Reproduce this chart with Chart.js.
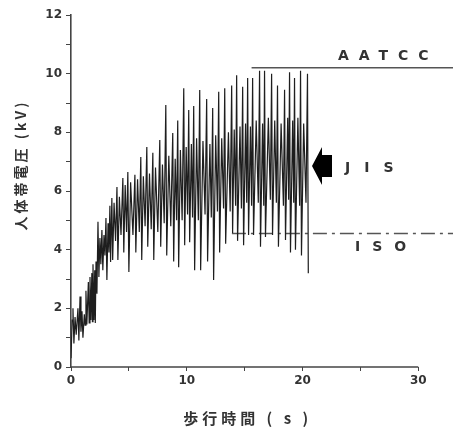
<!DOCTYPE html>
<html>
<head>
  <meta charset="UTF-8">
  <title>人体帯電圧</title>
  <script src="https://cdn.jsdelivr.net/npm/chart.js"></script>
  <style>
    body { margin: 0; background: #fff; }
    #wrap { width: 453px; height: 430px; }
  </style>
</head>
<body>
  <div id="wrap"><canvas id="chart" width="453" height="430"></canvas></div>

  <script>
    // 歩行時間 (s) と 人体帯電圧 (kV)
    const times = [0, 0.1, 0.17, 0.25, 0.35, 0.45, 0.6, 0.68, 0.78, 0.86,
      0.95, 1.03, 1.15, 1.22, 1.29, 1.37, 1.5, 1.57, 1.64, 1.72,
      1.8, 1.85, 1.9, 1.98, 2.05, 2.1, 2.16, 2.24, 2.33, 2.41,
      2.5, 2.58, 2.67, 2.75, 2.85, 2.93, 3.02, 3.1, 3.2, 3.28,
      3.36, 3.42, 3.53, 3.6, 3.72, 3.85, 3.97, 4.05, 4.18, 4.32,
      4.48, 4.56, 4.68, 4.8, 4.91, 5.0, 5.15, 5.35, 5.52, 5.6,
      5.75, 5.9, 6.03, 6.11, 6.25, 6.4, 6.55, 6.63, 6.78, 6.93,
      7.07, 7.15, 7.3, 7.5, 7.67, 7.75, 7.9, 8.05, 8.19, 8.27,
      8.45, 8.62, 8.79, 8.87, 9.0, 9.12, 9.22, 9.3, 9.45, 9.6,
      9.74, 9.82, 9.95, 10.07, 10.17, 10.25, 10.4, 10.5, 10.6, 10.68,
      10.85, 11.0, 11.12, 11.2, 11.4, 11.58, 11.72, 11.8, 12.0, 12.12,
      12.24, 12.32, 12.5, 12.65, 12.76, 12.84, 13.02, 13.18, 13.28, 13.36,
      13.6, 13.75, 13.88, 13.96, 14.1, 14.22, 14.31, 14.39, 14.6, 14.72,
      14.83, 14.91, 15.08, 15.18, 15.26, 15.34, 15.5, 15.6, 15.69, 15.77,
      16.0, 16.18, 16.29, 16.37, 16.55, 16.65, 16.72, 16.8, 17.05, 17.22,
      17.33, 17.41, 17.6, 17.74, 17.84, 17.92, 18.15, 18.35, 18.45, 18.53,
      18.72, 18.8, 18.88, 18.96, 19.15, 19.24, 19.31, 19.39, 19.6, 19.75,
      19.83, 19.91, 20.1, 20.3, 20.43, 20.5];

    const volts = [0.3, 1.6, 2.0, 0.8, 1.7, 1.1, 2.0, 0.9, 2.4, 1.2,
      1.9, 1.0, 1.8, 1.43, 2.6, 1.45, 2.9, 1.5, 3.07, 1.6,
      3.2, 1.55, 3.5, 1.6, 3.3, 1.5, 3.6, 2.5, 4.95, 3.07,
      4.4, 3.5, 4.67, 3.3, 4.5, 3.8, 5.08, 2.97, 4.9, 3.9,
      5.5, 3.58, 5.76, 3.65, 5.6, 4.3, 6.14, 3.65, 5.8, 4.5,
      6.44, 3.9, 6.2, 4.6, 6.65, 3.24, 6.3, 4.5, 6.55, 3.9,
      6.4, 4.6, 7.16, 3.65, 6.5, 4.8, 7.5, 4.1, 6.6, 4.7,
      7.3, 3.65, 6.8, 4.6, 7.74, 4.1, 6.9, 4.9, 8.93, 3.8,
      7.2, 4.8, 7.98, 3.6, 7.1, 5.0, 8.4, 3.4, 7.4, 5.0,
      9.5, 4.15, 7.5, 5.2, 8.76, 4.25, 7.6, 5.1, 8.9, 3.3,
      7.8, 5.0, 9.44, 3.3, 7.7, 5.2, 9.14, 3.6, 7.6, 5.1,
      8.83, 2.97, 7.9, 5.3, 9.38, 3.9, 7.8, 5.4, 9.5, 4.2,
      8.0, 5.3, 9.6, 4.57, 8.1, 5.5, 9.95, 4.3, 8.2, 5.4,
      9.55, 4.15, 8.3, 5.6, 9.85, 4.5, 8.2, 5.5, 9.85, 4.5,
      8.4, 5.6, 10.1, 4.1, 8.3, 5.5, 10.1, 4.43, 8.5, 5.7,
      10.0, 4.5, 8.4, 5.6, 9.6, 4.1, 8.3, 5.5, 9.45, 4.33,
      8.5, 5.7, 10.05, 3.9, 8.4, 5.6, 9.85, 4.0, 8.5, 5.5,
      10.1, 3.8, 8.3, 5.6, 10.0, 3.2];

    // 基準線 (kV) と範囲 (s)
    const aatccLevel = 10.2;
    const aatccRange = [15.6, 33];
    const isoLevel = 4.55;
    const isoRange = [13.9, 33];
    const jisLevel = 6.85;
    const jisTip = 20.82;

    const xTicks = [0, 5, 10, 15, 20, 25, 30];
    const xLabels = [0, 10, 20, 30];
    const yLabels = [0, 2, 4, 6, 8, 10, 12];

    const ink = '#333';
    const tickFont = { family: 'DejaVu Sans', size: 12, weight: 'bold' };

    const serie = times.map((t, i) => ({ x: t, y: volts[i] }));

    // 軸タイトルと注記
    const textos = {
      id: 'textos',
      afterDatasetsDraw(chart) {
        const { ctx, scales: { x, y } } = chart;
        ctx.save();
        ctx.fillStyle = ink;
        ctx.textBaseline = 'middle';

        // 縦軸タイトル
        ctx.save();
        ctx.translate(21, 165);
        ctx.rotate(-Math.PI / 2);
        ctx.textAlign = 'center';
        ctx.font = 'bold 14px "Noto Sans CJK JP"';
        ctx.letterSpacing = '3px';
        ctx.fillText('人体帯電圧 (kV)', 0, 0);
        ctx.restore();

        // 横軸タイトル
        ctx.textAlign = 'center';
        ctx.font = 'bold 15px "Noto Sans CJK JP"';
        ctx.letterSpacing = '4px';
        ctx.fillText('歩行時間 ( s )', x.getPixelForValue(15) + 3, 418);

        // 注記
        ctx.textAlign = 'left';
        ctx.font = 'bold 14px "DejaVu Sans"';
        ctx.letterSpacing = '10px';
        ctx.fillText('AATCC', x.getPixelForValue(23.06), y.getPixelForValue(aatccLevel) - 11);
        ctx.letterSpacing = '14px';
        ctx.fillText('JIS', x.getPixelForValue(23.67), y.getPixelForValue(jisLevel) + 2);
        ctx.letterSpacing = '12px';
        ctx.fillText('ISO', x.getPixelForValue(24.53), y.getPixelForValue(isoLevel) + 14);

        // JIS の矢印
        const px = x.getPixelForValue(jisTip);
        const py = y.getPixelForValue(jisLevel);
        ctx.fillStyle = '#000';
        ctx.beginPath();
        ctx.moveTo(px, py);
        ctx.lineTo(px + 10, py - 19);
        ctx.lineTo(px + 10, py - 11);
        ctx.lineTo(px + 20, py - 11);
        ctx.lineTo(px + 20, py + 11);
        ctx.lineTo(px + 10, py + 11);
        ctx.lineTo(px + 10, py + 19);
        ctx.closePath();
        ctx.fill();
        ctx.restore();
      }
    };

    new Chart(document.getElementById('chart'), {
      type: 'line',
      data: {
        datasets: [
          {
            label: '人体帯電圧',
            data: serie,
            borderColor: '#1e1e1e',
            borderWidth: 1.2,
            pointRadius: 0,
            tension: 0
          },
          {
            label: 'AATCC',
            data: [{ x: aatccRange[0], y: aatccLevel }, { x: aatccRange[1], y: aatccLevel }],
            borderColor: '#555',
            borderWidth: 1.6,
            pointRadius: 0
          },
          {
            label: 'ISO',
            data: [{ x: isoRange[0], y: isoLevel }, { x: isoRange[1], y: isoLevel }],
            borderColor: '#555',
            borderWidth: 1.4,
            borderDash: [14, 5, 3, 5],
            pointRadius: 0
          },
          {
            label: 'eje',
            data: [{ x: 0, y: 0 }, { x: 30, y: 0 }],
            borderColor: '#444',
            borderWidth: 1.6,
            pointRadius: 0,
            clip: false
          }
        ]
      },
      options: {
        responsive: false,
        animation: false,
        layout: { padding: { top: 15, right: 0, left: 0, bottom: 0 } },
        plugins: {
          legend: { display: false },
          tooltip: { enabled: false }
        },
        scales: {
          x: {
            type: 'linear',
            min: 0,
            max: 33,
            afterBuildTicks: s => { s.ticks = xTicks.map(v => ({ value: v })); },
            afterFit: s => { s.height = 63; },
            border: { display: false },
            grid: { drawOnChartArea: false, drawTicks: true, tickLength: 4, color: '#444' },
            ticks: {
              color: ink,
              font: tickFont,
              padding: 3,
              maxRotation: 0,
              autoSkip: false,
              callback: v => xLabels.includes(v) ? String(v) : ''
            }
          },
          y: {
            min: 0,
            max: 12,
            afterBuildTicks: s => {
              const t = [];
              for (let v = 0; v <= 12; v++) t.push({ value: v });
              s.ticks = t;
            },
            afterFit: s => { s.width = 71; },
            border: { display: true, color: '#444', width: 1.6 },
            grid: { drawOnChartArea: false, drawTicks: true, tickLength: 5, color: '#444' },
            ticks: {
              color: ink,
              font: tickFont,
              padding: 4,
              autoSkip: false,
              callback: v => yLabels.includes(v) ? String(v) : ''
            }
          }
        }
      },
      plugins: [textos]
    });
  </script>
</body>
</html>
